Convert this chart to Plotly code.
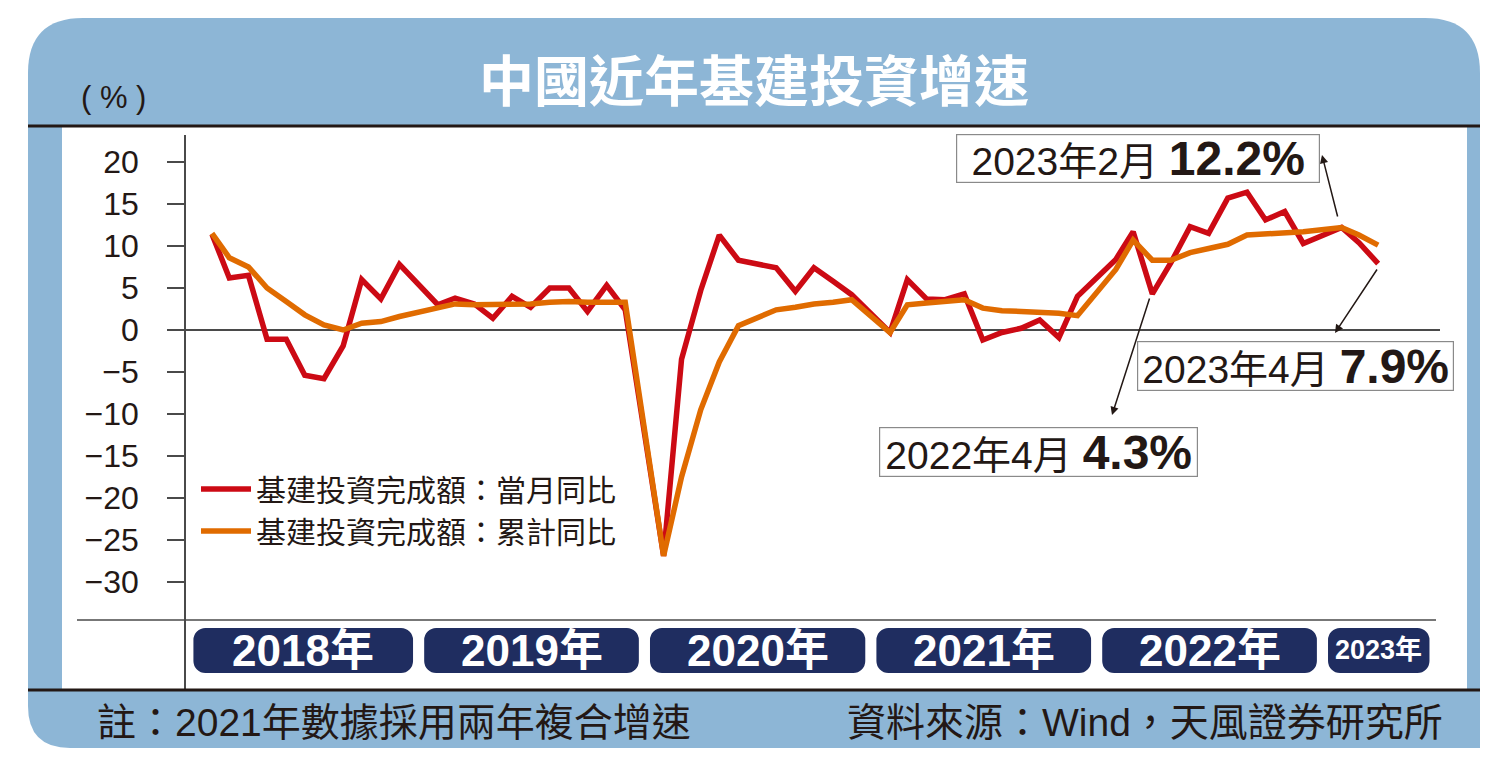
import plotly.graph_objects as go
import pandas as pd

# 月份（1、2月合併公佈，故每年沒有1月）
months = [
    "2018-02", "2018-03", "2018-04", "2018-05", "2018-06", "2018-07", "2018-08", "2018-09", "2018-10", "2018-11", "2018-12",
    "2019-02", "2019-03", "2019-04", "2019-05", "2019-06", "2019-07", "2019-08", "2019-09", "2019-10", "2019-11", "2019-12",
    "2020-02", "2020-03", "2020-04", "2020-05", "2020-06", "2020-07", "2020-08", "2020-09", "2020-10", "2020-11", "2020-12",
    "2021-02", "2021-03", "2021-04", "2021-05", "2021-06", "2021-07", "2021-08", "2021-09", "2021-10", "2021-11", "2021-12",
    "2022-02", "2022-03", "2022-04", "2022-05", "2022-06", "2022-07", "2022-08", "2022-09", "2022-10", "2022-11", "2022-12",
    "2023-02", "2023-03", "2023-04",
]
# 基建投資完成額：當月同比 (%)
monthly_yoy = [
    11.4, 6.2, 6.5, -1.1, -1.1, -5.4, -5.8, -1.9, 6.0, 3.7, 7.8,
    3.0, 3.8, 3.1, 1.4, 4.0, 2.7, 5.0, 5.0, 2.2, 5.3, 2.4,
    -26.9, -3.5, 4.7, 11.3, 8.3, 7.9, 7.4, 4.6, 7.4, 5.8, 4.2,
    -0.3, 6.0, 3.7, 3.6, 4.3, -1.2, -0.3, 0.2, 1.2, -0.9, 4.0,
    8.4, 11.7, 4.3, 8.0, 12.3, 11.5, 15.7, 16.4, 13.1, 14.1, 10.3,
    12.2, 10.4, 7.9,
]
# 基建投資完成額：累計同比 (%)
cumulative_yoy = [
    11.5, 8.6, 7.5, 5.0, 3.4, 1.8, 0.6, 0.0, 0.8, 1.0, 1.6,
    2.7, 3.1, 3.0, 3.0, 3.0, 3.1, 3.3, 3.4, 3.3, 3.3, 3.3,
    -26.9, -17.5, -9.5, -3.8, 0.5, 1.5, 2.4, 2.7, 3.1, 3.3, 3.6,
    -0.3, 3.0, 3.2, 3.4, 3.6, 2.6, 2.3, 2.2, 2.1, 2.0, 1.7,
    7.2, 10.7, 8.3, 8.3, 9.2, 9.7, 10.2, 11.3, 11.4, 11.5, 11.7,
    12.2, 11.3, 10.1,
]
series_names = ["基建投資完成額：當月同比", "基建投資完成額：累計同比"]
year_labels = ["2018年", "2019年", "2020年", "2021年", "2022年", "2023年"]
y_ticks = [20, 15, 10, 5, 0, -5, -10, -15, -20, -25, -30]
callouts = [("2023年2月", "12.2%"), ("2023年4月", "7.9%"), ("2022年4月", "4.3%")]

FONT = "Liberation Sans, Noto Sans CJK TC, sans-serif"
CJK = "Noto Sans CJK TC, sans-serif"
DARK = "#231815"
RED = "#cc0a14"
ORANGE = "#e06b00"
BLUE = "#8db6d6"
NAVY = "#1f2d60"

# 頁面有 8px 邊距，圖表尺寸相應縮小
OFF = 8
W, H = 1500 - OFF, 769 - OFF
L, R, T, B = 186, 1440, 135, 690   # 繪圖區（畫面像素）
x_range = ["2017-12-21", "2023-07-10"]
y_range = [-42.86, 23.21]
band_base, band_h = -35.48, -5.35


def px(x):
    return (x - L) / (R - L)


def py(y):
    return (B - y) / (B - T)


def rounded_box(x0, y0, x1, y1, tl, tr, br, bl):
    # 像素座標 -> paper 座標的圓角框
    def p(x, y):
        return f"{px(x):.5f},{py(y):.5f}"
    d = f"M{p(x0, y0 + tl)} Q{p(x0, y0)} {p(x0 + tl, y0)} L{p(x1 - tr, y0)} Q{p(x1, y0)} {p(x1, y0 + tr)} "
    d += f"L{p(x1, y1 - br)} Q{p(x1, y1)} {p(x1 - br, y1)} L{p(x0 + bl, y1)} Q{p(x0, y1)} {p(x0, y1 - bl)} Z"
    return d


fig = go.Figure()

fig.add_trace(go.Scatter(x=months, y=monthly_yoy, name=series_names[0], mode="lines",
                         line=dict(color=RED, width=5.5), hoverinfo="skip"))
fig.add_trace(go.Scatter(x=months, y=cumulative_yoy, name=series_names[1], mode="lines",
                         line=dict(color=ORANGE, width=5.5), hoverinfo="skip"))

# 年份色塊
band_start = [pd.Timestamp(f"{lab[:4]}-01-10") for lab in year_labels]
band_start[0] = pd.Timestamp("2018-01-02")
band_end = [pd.Timestamp(f"{lab[:4]}-12-23") for lab in year_labels]
band_end[-1] = pd.Timestamp("2023-06-23")
band_mid = [s + (e - s) / 2 for s, e in zip(band_start, band_end)]
band_w = [(e - s).total_seconds() * 1000 for s, e in zip(band_start, band_end)]

fig.add_trace(go.Bar(
    x=band_mid, y=[band_h] * len(year_labels), base=band_base, width=band_w,
    marker=dict(color=NAVY, cornerradius=12, line_width=0),
    hoverinfo="skip", showlegend=False,
))

shapes = [
    dict(type="path", path=rounded_box(28, 18, 1480, 748, 55, 55, 0, 42), xref="paper", yref="paper",
         fillcolor=BLUE, line_width=0, layer="below"),
    dict(type="rect", x0=px(62), x1=px(1467), y0=py(690), y1=py(127), xref="paper", yref="paper",
         fillcolor="white", line_width=0, layer="below"),
    dict(type="line", x0=px(28), x1=px(1480), y0=py(126), y1=py(126), xref="paper", yref="paper",
         line=dict(color=DARK, width=3)),
    dict(type="line", x0=px(28), x1=px(1480), y0=py(690), y1=py(690), xref="paper", yref="paper",
         line=dict(color=DARK, width=3)),
    dict(type="line", x0=px(77), x1=px(1436), y0=py(620), y1=py(620), xref="paper", yref="paper",
         line=dict(color="#4a4a4a", width=1.5)),
]

annotations = [
    dict(text="<b>中國近年基建投資增速</b>", x=px(754), y=py(77), xref="paper", yref="paper",
         xanchor="center", yanchor="middle", showarrow=False,
         font=dict(family=CJK, size=55, color="white")),
    dict(text="( % )", x=px(113), y=py(97), xref="paper", yref="paper",
         xanchor="center", yanchor="middle", showarrow=False,
         font=dict(family=FONT, size=31, color=DARK)),
    dict(text="註：2021年數據採用兩年複合增速", x=px(95), y=py(722), xref="paper", yref="paper",
         xanchor="left", yanchor="middle", showarrow=False,
         font=dict(family=FONT, size=39, color=DARK)),
    dict(text="資料來源：Wind，天風證券研究所", x=px(1445), y=py(722), xref="paper", yref="paper",
         xanchor="right", yanchor="middle", showarrow=False,
         font=dict(family=FONT, size=39, color=DARK)),
]

# 年份標籤
for lab, mid in zip(year_labels, band_mid):
    annotations.append(dict(
        text=f"<b>{lab}</b>", x=mid, y=band_base + band_h / 2, xref="x", yref="y",
        xanchor="center", yanchor="middle", showarrow=False,
        font=dict(family=FONT, size=44 if lab != year_labels[-1] else 27, color="white"),
    ))

# 標註框（中心 x, y, 寬, 高，像素）
boxes = [(1138, 158.5, 362, 47), (1295.5, 366, 315, 48), (1038.5, 452, 317, 48)]
for (label, val), (cx, cy, bw, bh) in zip(callouts, boxes):
    annotations.append(dict(
        text=f"{label} <b><span style='font-size:48px'>{val}</span></b>",
        x=px(cx), y=py(cy), xref="paper", yref="paper", xanchor="center", yanchor="middle",
        showarrow=False, width=bw, height=bh, borderpad=0,
        bordercolor="#8a8a8a", borderwidth=1.2, bgcolor="white",
        font=dict(family=FONT, size=39, color=DARK),
    ))

# 箭頭（箭頭端, 尾端，像素）
arrows = [((1322, 155), (1338, 218)), ((1335, 333), (1378, 268)), ((1112, 415), (1150, 297))]
for (hx, hy), (tx, ty) in arrows:
    annotations.append(dict(
        text="", x=px(hx), y=py(hy), xref="paper", yref="paper",
        showarrow=True, ax=tx - hx, ay=ty - hy, axref="pixel", ayref="pixel",
        arrowhead=2, arrowsize=1.1, arrowwidth=1.5, arrowcolor=DARK,
    ))

fig.update_layout(
    width=W, height=H,
    margin=dict(l=L - OFF, r=W - (R - OFF), t=T - OFF, b=H - (B - OFF)),
    paper_bgcolor="white", plot_bgcolor="rgba(0,0,0,0)",
    shapes=shapes, annotations=annotations,
    showlegend=True,
    legend=dict(x=px(196), y=py(463), xanchor="left", yanchor="top",
                bgcolor="rgba(0,0,0,0)", font=dict(family=FONT, size=30, color=DARK),
                itemwidth=50, tracegroupgap=0),
    font=dict(family=FONT, color=DARK),
)
fig.update_xaxes(type="date", range=x_range, visible=False, showgrid=False)
fig.update_yaxes(
    range=y_range, tickmode="array", tickvals=y_ticks, showgrid=False,
    showline=True, linecolor="#4a4a4a", linewidth=1.5,
    zeroline=True, zerolinecolor="#4a4a4a", zerolinewidth=1.5,
    ticks="outside", ticklen=17, tickwidth=1.5, tickcolor="#4a4a4a",
    ticklabelstandoff=22, tickfont=dict(family=FONT, size=32, color=DARK),
)

fig.write_html("out.html")
